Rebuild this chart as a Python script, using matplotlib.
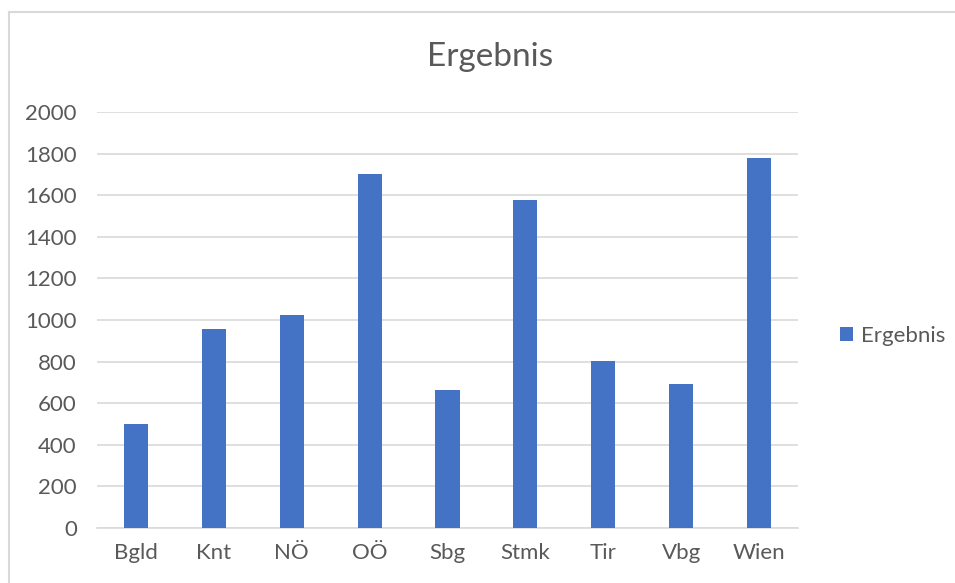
import matplotlib
matplotlib.use("Agg")
from matplotlib import pyplot as plt
from matplotlib.lines import Line2D

regions = ["Bgld", "Knt", "NÖ", "OÖ", "Sbg", "Stmk", "Tir", "Vbg", "Wien"]
ergebnis = [500, 955, 1022, 1700, 665, 1576, 801, 690, 1781]
y_ticks = [0, 200, 400, 600, 800, 1000, 1200, 1400, 1600, 1800, 2000]

plt.rcParams['font.family'] = ['Lato', 'DejaVu Sans']
text_color = "#595959"
grid_color = "#d9d9d9"

W, H = 955, 583
fig = plt.figure(figsize=(W / 100, H / 100), dpi=100)
ax = fig.add_axes([97 / W, 1 - 528 / H, (798 - 97) / W, (528 - 112) / H])

# chart frame (cropped screenshot: only top and left edges visible)
fig.add_artist(Line2D([9 / W, 1], [1 - 12 / H, 1 - 12 / H], color=grid_color, lw=1.5))
fig.add_artist(Line2D([9 / W, 9 / W], [1 - 12 / H, 0], color=grid_color, lw=1.5))

x = range(len(regions))
ax.bar(x, ergebnis, width=0.31, color="#4472c4", label="Ergebnis", zorder=3)

ax.set_xlim(-0.5, len(regions) - 0.5)
ax.set_ylim(0, 2000)
ax.set_yticks(y_ticks)
ax.set_xticks(list(x))
ax.set_xticklabels(regions)
ax.yaxis.grid(True, color=grid_color, lw=1.2)
ax.set_axisbelow(True)
for side in ["top", "right", "left"]:
    ax.spines[side].set_visible(False)
ax.spines["bottom"].set_color(grid_color)
ax.spines["bottom"].set_linewidth(1.2)
ax.tick_params(axis="both", length=0, labelsize=16, colors=text_color)
ax.tick_params(axis="y", pad=14.5)
ax.tick_params(axis="x", pad=11)

fig.text(490 / W, 1 - 57 / H, "Ergebnis", ha="center", va="center",
         fontsize=24, color=text_color)

ax.legend(loc="center left", bbox_to_anchor=(829 / W, 1 - 336 / H),
          bbox_transform=fig.transFigure, frameon=False, fontsize=16,
          labelcolor=text_color, handlelength=0.6, handleheight=0.6,
          handletextpad=0.35, borderpad=0)

fig.savefig("out.png", dpi=100, facecolor="white")
